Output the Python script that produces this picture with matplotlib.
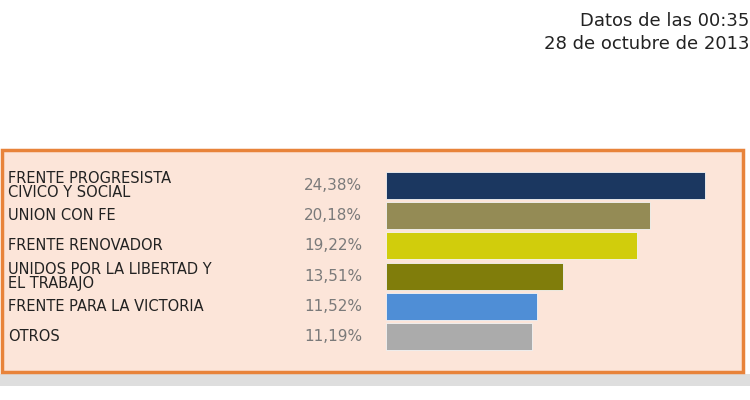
import matplotlib
matplotlib.use('Agg')
import matplotlib.pyplot as plt
from matplotlib.patches import Rectangle
from matplotlib.transforms import blended_transform_factory

plt.rcParams['font.family'] = ['DejaVu Sans']

partidos = ['FRENTE PROGRESISTA\nCIVICO Y SOCIAL', 'UNION CON FE', 'FRENTE RENOVADOR',
            'UNIDOS POR LA LIBERTAD Y\nEL TRABAJO', 'FRENTE PARA LA VICTORIA', 'OTROS']
votos = [24.38, 20.18, 19.22, 13.51, 11.52, 11.19]
colores = ['#1b3760', '#948b55', '#d1cd0c', '#807d0b', '#4f8ed6', '#ababab']

W, H = 750, 400
fig = plt.figure(figsize=(7.5, 4), dpi=100)
fig.patch.set_facecolor('white')

# caja de fondo con borde naranja y sombra gris
fig.patches.append(Rectangle((0, 1 - 386 / H), 1, 12 / H, transform=fig.transFigure,
                             facecolor='#dedede', edgecolor='none', zorder=-2))
fig.patches.append(Rectangle((1.5 / W, 1 - 372 / H), 741 / W, 222 / H, transform=fig.transFigure,
                             facecolor='#fce5d9', edgecolor='#e8833a', lw=2.5, zorder=-1))

fig.text(1 - 1 / W, 1 - 21 / H, 'Datos de las 00:35', ha='right', va='center',
         fontsize=13, color='#222222')
fig.text(1 - 1 / W, 1 - 44 / H, '28 de octubre de 2013', ha='right', va='center',
         fontsize=13, color='#222222')

# eje de barras
px_por_unidad = 319 / 24.38
x0, x1 = 386, 740
top, paso = 170.4, 30.2
ax = fig.add_axes([x0 / W, 1 - (top + 6 * paso) / H, (x1 - x0) / W, 6 * paso / H])
ax.set_zorder(5)
ax.set_xlim(0, (x1 - x0) / px_por_unidad)
ax.set_ylim(5.5, -0.5)
ax.axis('off')
ax.patch.set_alpha(0)

pos = list(range(len(votos)))
ax.barh(pos, votos, height=0.9, color=colores, edgecolor='#f4f4f4', linewidth=0.6)

tr = blended_transform_factory(fig.transFigure, ax.transData)
for i, (nombre, v) in enumerate(zip(partidos, votos)):
    ax.text(8 / W, i, nombre, transform=tr, ha='left', va='center', fontsize=10.5,
            color='#222222', linespacing=0.92, clip_on=False)
    ax.text(362 / W, i, f'{v:.2f}%'.replace('.', ','), transform=tr, ha='right',
            va='center', fontsize=11, color='#7a7a7a', clip_on=False)

fig.savefig('out.png', dpi=100, facecolor='white')
